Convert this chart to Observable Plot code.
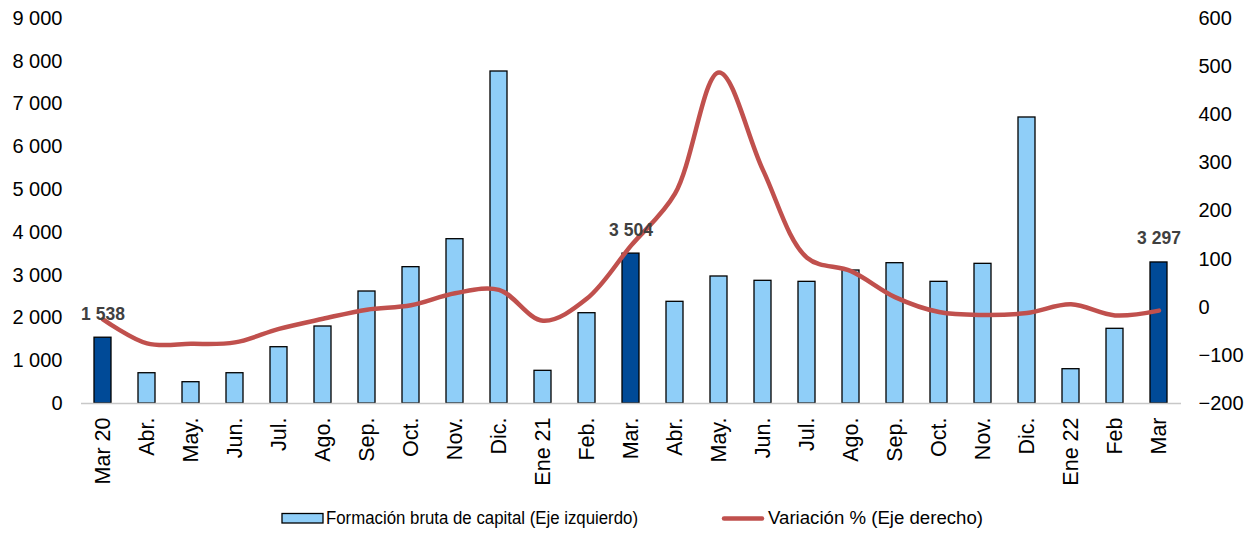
<!DOCTYPE html>
<html>
<head>
<meta charset="utf-8">
<script src="https://cdn.jsdelivr.net/npm/d3@7"></script>
<script src="https://cdn.jsdelivr.net/npm/@observablehq/plot@0.6"></script>
<style>
  html, body { margin: 0; padding: 0; background: #fff; }
  svg { display: block; }
</style>
</head>
<body>
<div id="chart"></div>
<script>
const categories = ["Mar 20","Abr.","May.","Jun.","Jul.","Ago.","Sep.","Oct.","Nov.","Dic.","Ene 21","Feb.","Mar.","Abr.","May.","Jun.","Jul.","Ago.","Sep.","Oct.","Nov.","Dic.","Ene 22","Feb","Mar"];
const formacion = [1538,708,498,708,1316,1800,2618,3187,3841,7761,764,2111,3504,2377,2969,2868,2844,3109,3280,2844,3265,6686,802,1746,3297];
const variacion = [-25,-75,-76,-73,-45,-24,-5,4,29,36,-28,18,128,236,488,285,103,75,21,-10,-16,-12,6,-17,-7];
const highlightIdx = [0,12,24]; // marzo de cada año (barras oscuras con etiqueta)
const leftTicks = [0,1000,2000,3000,4000,5000,6000,7000,8000,9000];
const rightTicks = [-200,-100,0,100,200,300,400,500,600];
const seriesNames = ["Formación bruta de capital (Eje izquierdo)","Variación % (Eje derecho)"];

const colLight = "#8FCEF8", colDark = "#004A97", colLine = "#C0504D";
const font = "'Liberation Sans', Arial, sans-serif";

// right axis mapped onto left scale
const rMin = -200, rMax = 600, lMax = 9000;
const r2l = v => (v - rMin) * lMax / (rMax - rMin);
const fmt = d => d3.format(",")(Math.round(d)).replace(/,/g, " ");

const data = categories.map((c, i) => ({
  i, cat: c, val: formacion[i], varr: variacion[i], vl: r2l(variacion[i]),
  hl: highlightIdx.includes(i)
}));

const chart = Plot.plot({
  width: 1248,
  height: 500,
  marginTop: 18,
  marginBottom: 97,
  marginLeft: 81,
  marginRight: 67,
  style: { fontFamily: font, fontSize: "20px", color: "#000", background: "#fff" },
  x: { type: "band", domain: d3.range(categories.length), paddingInner: 0.61, paddingOuter: 0.305, axis: null, label: null },
  y: { domain: [0, lMax], axis: null, label: null },
  marks: [
    Plot.barY(data, { x: "i", y: "val", fill: d => d.hl ? colDark : colLight, stroke: "#000", strokeWidth: 1.3 }),
    Plot.ruleY([0], { stroke: "#C8C8C8", strokeWidth: 1.5 }),
    Plot.line(data, { x: "i", y: "vl", stroke: colLine, strokeWidth: 4.5, curve: "catmull-rom", strokeLinecap: "round", strokeLinejoin: "round" }),
    Plot.text(data.filter(d => d.hl), { x: "i", y: "val", text: d => fmt(d.val), lineAnchor: "bottom", dy: -18, fontWeight: "bold", fontSize: 17.5, fill: "#404040" }),
    Plot.axisY(leftTicks, { anchor: "left", tickSize: 0, tickPadding: 19, tickFormat: fmt, fontSize: 20, fill: "#000", label: null }),
    Plot.axisY(rightTicks.map(r2l), { anchor: "right", tickSize: 0, tickPadding: 17, tickFormat: d => fmt(d * (rMax - rMin) / lMax + rMin), fontSize: 20, fill: "#000", label: null }),
    Plot.axisX(d3.range(categories.length), { tickSize: 0, tickPadding: 14, tickRotate: -90, tickFormat: i => categories[i], fontSize: 21.5, fill: "#000", label: null })
  ]
});
chart.querySelectorAll("text").forEach(t => t.style.fontFamily = font);
document.getElementById("chart").appendChild(chart);

// legend below
const leg = d3.select("#chart").append("svg")
  .attr("width", 1248).attr("height", 33)
  .style("font-family", font);
leg.append("rect").attr("x", 282).attr("y", 13.5).attr("width", 41).attr("height", 9.5)
  .attr("fill", colLight).attr("stroke", "#000").attr("stroke-width", 1.3);
leg.append("text").attr("x", 326).attr("y", 24).attr("font-size", 17.5)
  .attr("textLength", 312).attr("lengthAdjust", "spacingAndGlyphs").attr("fill", "#000")
  .text(seriesNames[0]);
leg.append("line").attr("x1", 724).attr("x2", 762).attr("y1", 18.5).attr("y2", 18.5)
  .attr("stroke", colLine).attr("stroke-width", 4.5).attr("stroke-linecap", "round");
leg.append("text").attr("x", 768).attr("y", 24).attr("font-size", 17.5)
  .attr("textLength", 215).attr("lengthAdjust", "spacingAndGlyphs").attr("fill", "#000")
  .text(seriesNames[1]);
</script>
</body>
</html>
